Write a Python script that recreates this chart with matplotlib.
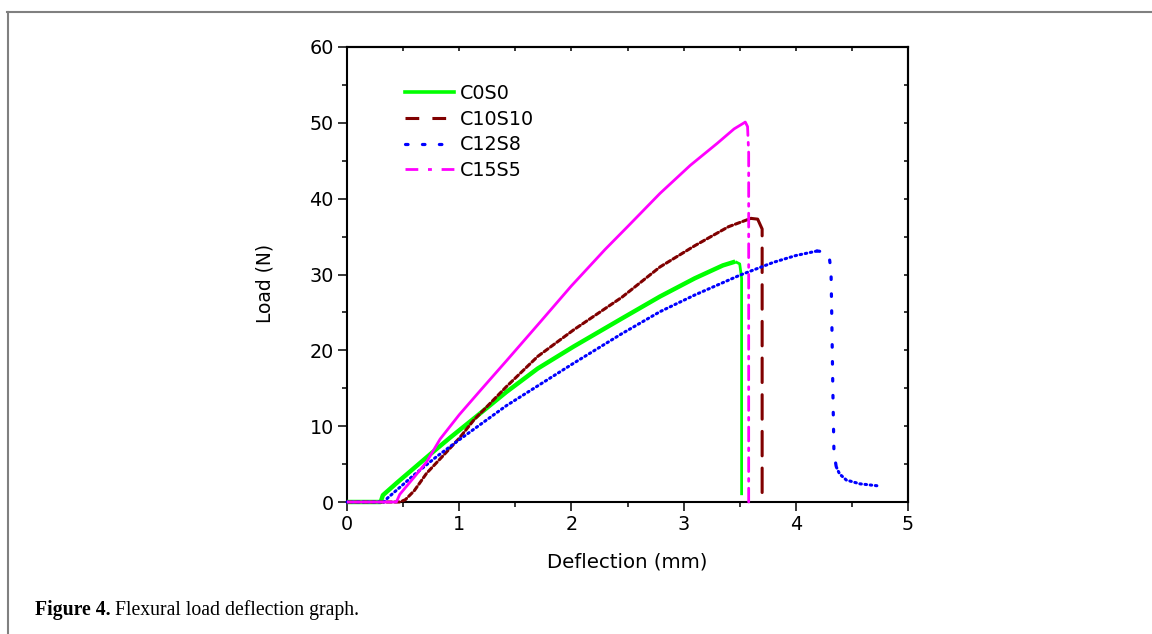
import numpy as np
import matplotlib
matplotlib.use('Agg')
import matplotlib.pyplot as plt
from matplotlib.lines import Line2D
from matplotlib.ticker import MultipleLocator

# ---------------- data ----------------
series_names = ['C0S0', 'C10S10', 'C12S8', 'C15S5']

c0s0_x = [0.00, 0.30, 0.32, 0.45, 0.60, 0.75, 0.92, 1.13, 1.42, 1.70, 2.02,
          2.45, 2.79, 3.10, 3.35, 3.46, 3.50, 3.517, 3.517]
c0s0_y = [0.0, 0.0, 0.9, 2.6, 4.5, 6.4, 8.5, 11.0, 14.5, 17.6, 20.5,
          24.2, 27.1, 29.5, 31.2, 31.7, 31.4, 29.5, 0.9]

c10s10_x = [0.00, 0.47, 0.52, 0.60, 0.71, 0.85, 1.00, 1.13, 1.42, 1.70, 2.02,
            2.45, 2.79, 3.10, 3.40, 3.60, 3.66, 3.70, 3.70]
c10s10_y = [0.0, 0.0, 0.3, 1.5, 3.8, 6.0, 8.4, 10.8, 15.2, 19.2, 22.7,
            27.0, 31.0, 33.8, 36.3, 37.4, 37.3, 36.0, 0.0]

c12s8_x = [0.00, 0.33, 0.36, 0.60, 0.80, 1.00, 1.42, 2.02, 2.45, 2.79, 3.10,
           3.50, 3.80, 4.00, 4.19, 4.245, 4.30, 4.314, 4.32, 4.33, 4.34, 4.36,
           4.39, 4.45, 4.57, 4.75]
c12s8_y = [0.0, 0.0, 0.5, 3.6, 6.0, 8.2, 12.7, 18.3, 22.2, 25.1, 27.3,
           29.9, 31.6, 32.5, 33.1, 33.0, 32.1, 30.4, 25.0, 15.0, 6.6, 4.66,
           3.7, 2.9, 2.4, 2.1]

c15s5_x = [0.00, 0.44, 0.47, 0.60, 0.71, 0.83, 1.00, 1.20, 1.42, 1.72, 2.00,
           2.30, 2.50, 2.79, 3.06, 3.30, 3.45, 3.55, 3.57, 3.58, 3.58]
c15s5_y = [0.0, 0.0, 1.0, 3.3, 5.3, 8.3, 11.5, 14.9, 18.6, 23.7, 28.5,
           33.3, 36.3, 40.7, 44.4, 47.3, 49.2, 50.1, 49.5, 46.0, 0.0]

x_ticks = [0, 1, 2, 3, 4, 5]
y_ticks = [0, 10, 20, 30, 40, 50, 60]

# ---------------- figure ----------------
W, H = 1152, 634
fig = plt.figure(figsize=(W / 100, H / 100), dpi=100)
plt.rcParams['font.family'] = ['DejaVu Sans']

ax = fig.add_axes([347 / W, 1 - 502 / H, 561 / W, 455 / H])
ax.set_xlim(0, 5)
ax.set_ylim(0, 60)
ax.set_xticks(x_ticks)
ax.set_yticks(y_ticks)
ax.xaxis.set_minor_locator(MultipleLocator(0.5))
ax.yaxis.set_minor_locator(MultipleLocator(5))
for s in ax.spines.values():
    s.set_linewidth(1.5)
ax.tick_params(which='major', direction='out', length=6.5, width=1.1,
               labelsize=13.8, pad=3)
ax.tick_params(which='minor', direction='out', length=3.5, width=1.1)

top = ax.secondary_xaxis('top')
top.set_xticks(np.arange(0, 5.01, 0.5))
top.tick_params(direction='in', length=3, width=1.1, labeltop=False)
top.spines['top'].set_linewidth(1.5)
right = ax.secondary_yaxis('right')
right.set_yticks(np.arange(0, 60.01, 5))
right.tick_params(direction='in', length=3, width=1.1, labelright=False)
right.spines['right'].set_linewidth(1.5)

ax.set_xlabel('Deflection (mm)', fontsize=14.2)
ax.xaxis.set_label_coords(0.5, -0.112)
ax.set_ylabel('Load (N)', fontsize=13.4)
ax.yaxis.set_label_coords(-0.13, 0.48)

colors = ['#00ff00', '#800000', '#0000ff', '#ff00ff']
data = [(c0s0_x, c0s0_y), (c10s10_x, c10s10_y), (c12s8_x, c12s8_y),
        (c15s5_x, c15s5_y)]
# (curve linestyle, curve lw, drop linestyle, drop lw)
styles = [
    ('-', 3.2, '-', 2.0),
    ((0, (1.6, 1.0)), 2.2, (0, (8, 4)), 2.2),
    ((0, (0.5, 1.2)), 2.2, (0, (0.8, 4.5)), 2.3),
    ('-', 2.0, (0, (5, 2.5, 1, 2.5)), 2.0),
]
for (xs, ys), c, (ls1, lw1, ls2, lw2) in zip(data, colors, styles):
    xs = np.asarray(xs); ys = np.asarray(ys)
    k = int(np.argmax(ys))
    # the tail after the fall (dense points) keeps the curve style
    low = np.nonzero(ys[k:] < 5)[0]
    j = k + int(low[0]) if len(low) and k + int(low[0]) < len(ys) - 1 else len(ys) - 1
    kw = dict(color=c, dash_capstyle='round', solid_capstyle='butt',
              clip_on=False, zorder=3)
    ax.plot(xs[:k + 1], ys[:k + 1], lw=lw1, ls=ls1, **kw)
    ax.plot(xs[k:j + 1], ys[k:j + 1], lw=lw2, ls=ls2, **kw)
    if j < len(ys) - 1:
        ax.plot(xs[j:], ys[j:], lw=lw1, ls=ls1, **kw)

handles = [
    Line2D([], [], color=colors[0], lw=2.6, ls='-'),
    Line2D([], [], color=colors[1], lw=2.2, ls=(0, (4.5, 4.3))),
    Line2D([], [], color=colors[2], lw=2.3, ls=(0, (0.8, 4.5)), dash_capstyle='round'),
    Line2D([], [], color=colors[3], lw=2.0, ls=(0, (4.6, 3.5, 1.4, 3.5))),
]
ax.legend(handles, series_names, loc='upper left', bbox_to_anchor=(0.1034, 0.919),
          frameon=False, fontsize=13.8, handlelength=2.55, handletextpad=0.3,
          labelspacing=0.35, borderpad=0, borderaxespad=0)

# frame lines around the figure
border = '#808080'
fig.add_artist(Line2D([7 / W, 1.0], [1 - 11.5 / H, 1 - 11.5 / H],
                      transform=fig.transFigure, color=border, lw=1.5))
fig.add_artist(Line2D([8 / W, 8 / W], [1 - 11.5 / H, 0.0],
                      transform=fig.transFigure, color=border, lw=1.5))

# caption
cap_y = 1 - 615 / H
t1 = fig.text(35 / W, cap_y, 'Figure 4.', family='Liberation Serif',
              weight='bold', fontsize=14.2, va='baseline', ha='left')
fig.canvas.draw()
bb = t1.get_window_extent(renderer=fig.canvas.get_renderer())
fig.text((bb.x1 + 4) / W, cap_y, 'Flexural load deflection graph.',
         family='Liberation Serif', fontsize=14.2, va='baseline', ha='left')

fig.savefig('out.png', dpi=100)
